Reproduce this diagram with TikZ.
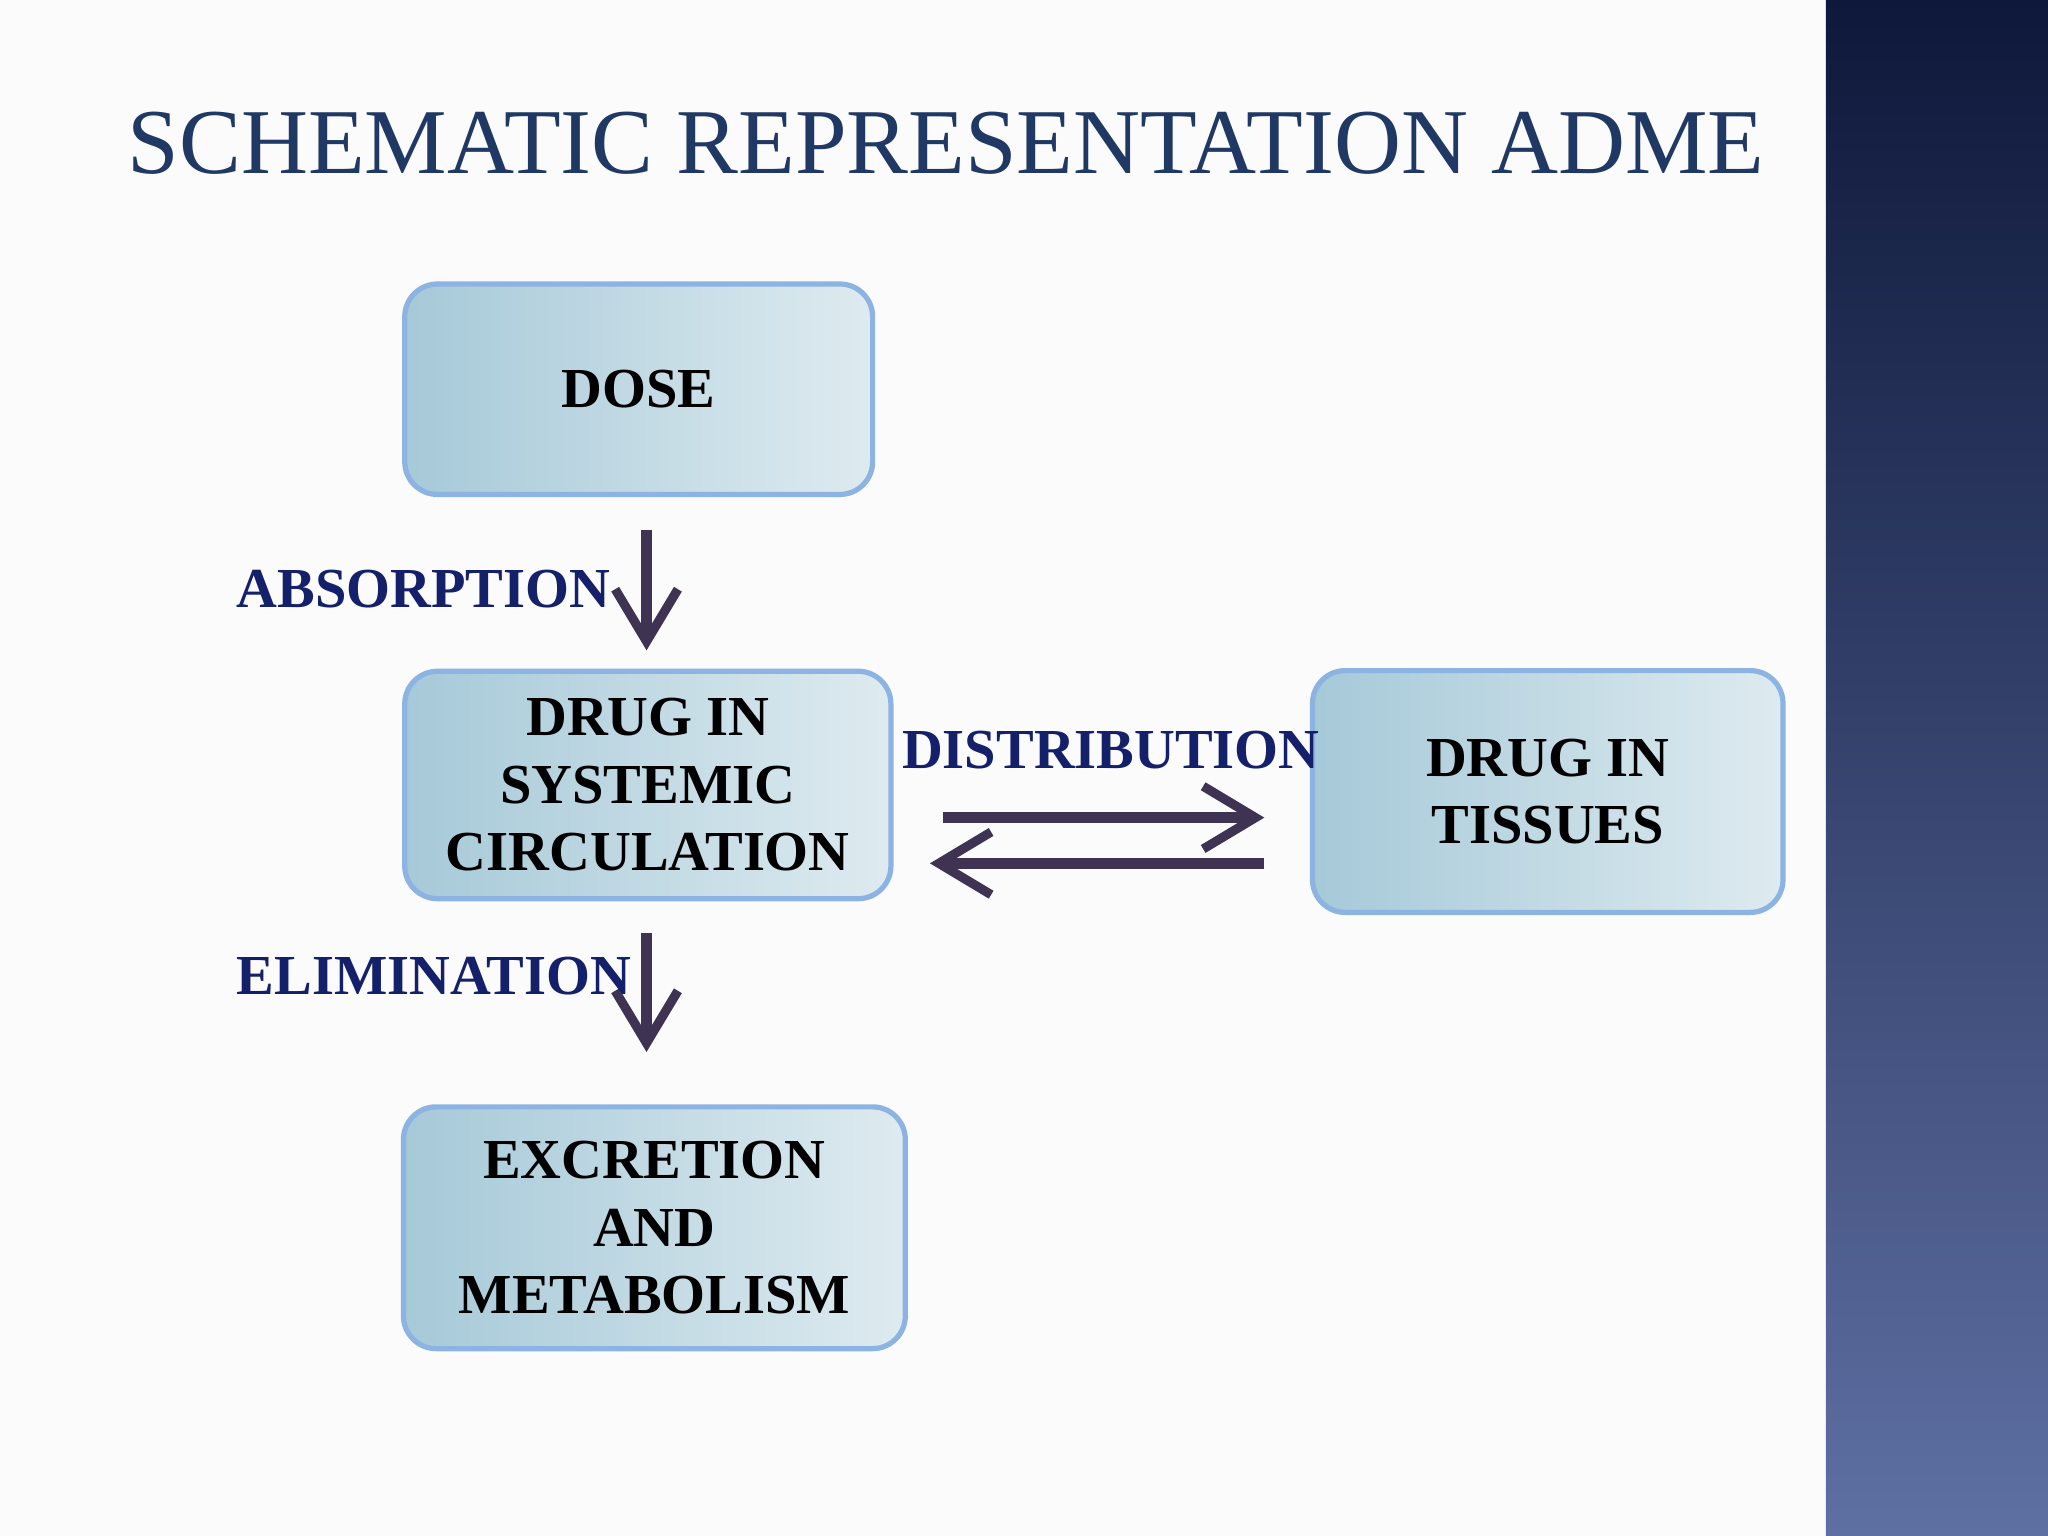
\documentclass[tikz,border=0pt]{standalone}
\usepackage{fontspec}
\setmainfont{Liberation Serif}
\usetikzlibrary{arrows.meta,calc}
\definecolor{ttl}{HTML}{1F3864}
\definecolor{lbl}{HTML}{14206A}
\definecolor{arr}{HTML}{3F3354}
\definecolor{bord}{HTML}{8DB3E2}
\begin{document}
\begin{tikzpicture}[x=0.01cm,y=-0.01cm,
  box/.style={draw=bord,line width=0.04cm,rounded corners=0.25cm,
    left color={rgb,255:red,166;green,201;blue,216},right color={rgb,255:red,222;green,235;blue,240},
    font=\bfseries\fontsize{12.3pt}{14.7pt}\selectfont,align=center,inner sep=0pt},
  lab/.style={text=lbl,font=\bfseries\fontsize{12.3pt}{14pt}\selectfont,inner sep=0pt},
  ar/.style={draw=arr,line width=0.08cm,-{Straight Barb[length=0.4cm,width=0.48cm,line width=0.07cm]}}]
\useasboundingbox (0,0) rectangle (1568,1176);
\fill[white!97!gray] (0,0) rectangle (1398,1176);
\shade[top color={rgb,255:red,14;green,24;blue,58},bottom color={rgb,255:red,94;green,111;blue,162}] (1398,0) rectangle (1568,1176);
\node[text=ttl,font=\fontsize{20.2pt}{22pt}\selectfont,anchor=west,inner sep=0pt] (t) at (97,110) {SCHEMATIC REPRESENTATION ADME};
\node[box,minimum width=3.58cm,minimum height=1.61cm] (dose) at (489,298) {DOSE};
\node[box,minimum width=3.72cm,minimum height=1.74cm] (sys) at (496,601) {DRUG IN\\SYSTEMIC\\CIRCULATION};
\node[box,minimum width=3.60cm,minimum height=1.85cm] (tis) at (1185,606) {DRUG IN\\TISSUES};
\node[box,minimum width=3.84cm,minimum height=1.85cm] (exc) at (501,940) {EXCRETION\\AND\\METABOLISM};
\draw[ar,shorten <=0.25cm,shorten >=0.14cm] (sys.north |- dose.south) ++(-1,0) coordinate (a1) -- (a1 |- sys.north);
\draw[ar,shorten <=0.24cm,shorten >=0.40cm] (sys.south) ++(-1,0) coordinate (e1) -- (e1 |- exc.north);
\coordinate (r1) at (722,626); \coordinate (r2) at (968,626);
\coordinate (l1) at (968,661); \coordinate (l2) at (712,661);
\draw[ar] (r1) -- (r2);
\draw[ar] (l1) -- (l2);
\node[lab,anchor=east] (abs) at (468,451) {ABSORPTION};
\node[lab,anchor=west] (dis) at (690,574) {DISTRIBUTION};
\node[lab,anchor=east] (eli) at (484,747) {ELIMINATION};
\end{tikzpicture}
\end{document}
